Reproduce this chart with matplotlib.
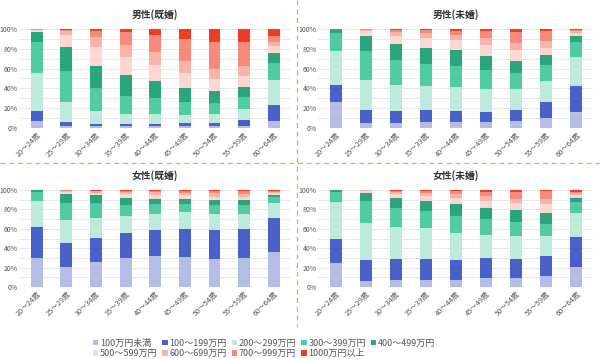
import numpy as np
import matplotlib
matplotlib.use("Agg")
import matplotlib.pyplot as plt
from matplotlib.patches import Patch
from matplotlib.lines import Line2D

plt.rcParams['font.family'] = ['Noto Sans CJK JP', 'DejaVu Sans']

ages = ["20～24歳", "25～29歳", "30～34歳", "35～39歳", "40～44歳",
        "45～49歳", "50～54歳", "55～59歳", "60～64歳"]
bands = ["100万円未満", "100～199万円", "200～299万円", "300～399万円", "400～499万円",
         "500～599万円", "600～699万円", "700～999万円", "1000万円以上"]
colors = ["#b3bde6", "#4a61c9", "#bcebdb", "#50cba2", "#2ba57c",
          "#fdd8d3", "#f9b4aa", "#f78b7b", "#ee3d22"]

# 各行: 年齢階級, 各列: 年収階級 (%)
male_married = [
    [7, 10, 39, 31, 10, 1.5, 0.8, 0.5, 0.2],
    [2, 4, 20.6, 31, 24.5, 12, 3.6, 1.7, 0.6],
    [2, 2, 13, 23, 23, 19, 9.5, 6, 2.5],
    [2, 1.7, 10.3, 18.5, 21, 18.5, 11.5, 13, 3.5],
    [2, 2.4, 9.6, 16.6, 16.4, 17, 12.8, 16.8, 6.4],
    [2, 3, 8, 13.6, 13.4, 16, 12, 22, 10],
    [2, 3, 9, 11.6, 11.4, 12.5, 10.5, 26.5, 13.5],
    [2.5, 5.2, 11.3, 12, 10.8, 11.2, 9.6, 24.4, 13],
    [7, 16, 25, 18, 10, 6.5, 4.5, 6, 7],
]
male_single = [
    [26.6, 17.2, 33.6, 18.2, 4.1, 0.1, 0.1, 0.1, 0.0],
    [4.7, 13.1, 30.7, 29.3, 15.2, 5, 1.3, 0.4, 0.3],
    [4.7, 12.1, 26.2, 25.4, 16.1, 8.8, 3.3, 2.4, 1],
    [5.7, 12.1, 24.2, 23, 16, 9.5, 5.1, 3.7, 0.7],
    [5.7, 11.5, 23.8, 21.6, 16.2, 10.4, 5.1, 4, 1.7],
    [6.4, 10.1, 22.5, 20, 13.7, 11.1, 6.8, 7.7, 1.7],
    [7, 11.5, 21.2, 16.3, 11.7, 11.1, 6.7, 11.5, 3],
    [9.8, 16.5, 21.2, 16.1, 10.1, 7.3, 7, 10, 2],
    [16.5, 25.5, 29.4, 15.1, 6.5, 3.3, 1.7, 1.3, 0.7],
]
female_married = [
    [29.6, 32.6, 26.1, 10, 1.5, 0.1, 0.05, 0.05, 0.0],
    [21, 24, 23.7, 18.3, 9.2, 2.1, 1, 0.4, 0.3],
    [25.4, 24.8, 20.6, 15.5, 8.2, 2.4, 1.7, 0.7, 0.7],
    [29.6, 25.7, 17.9, 11.7, 7.1, 3.5, 2.8, 1, 0.7],
    [32, 27, 16.6, 9.6, 5.8, 3.5, 3.1, 1.4, 1],
    [30.6, 28.9, 17.5, 9, 4.4, 4.1, 2.8, 2, 0.7],
    [28.5, 30.3, 16.8, 9.3, 4.8, 3.4, 3.5, 2.7, 0.7],
    [29.6, 30.2, 15.8, 8.9, 4.8, 3.1, 3.5, 3.4, 0.7],
    [36.4, 34.4, 16.2, 6.1, 2.1, 1.7, 1.4, 1, 0.7],
]
female_single = [
    [25, 24.5, 38.5, 10.3, 1.4, 0.1, 0.1, 0.05, 0.05],
    [6.2, 22, 38.1, 22.4, 8.2, 2.1, 0.7, 0.2, 0.1],
    [6.9, 22, 33.3, 19.6, 10.3, 4.1, 2.1, 1, 0.7],
    [7.6, 21.3, 31.9, 17.6, 9.9, 5.5, 3.1, 2.1, 1],
    [6.9, 20.9, 27.9, 17.5, 12, 6.2, 4.1, 3.1, 1.4],
    [8.9, 20.7, 24.4, 16.1, 11, 7.2, 5.5, 4.5, 1.7],
    [9.3, 19.2, 24.1, 14.8, 11.6, 7.3, 4.7, 7.3, 1.7],
    [11.3, 20.3, 21.3, 12.4, 11.3, 8.6, 5.2, 8.2, 1.4],
    [21, 30.9, 24, 11.7, 4.2, 3.4, 2.1, 1, 1.7],
]

panels = [
    ("男性(既婚)", male_married, (19, 290, 29, 128)),
    ("男性(未婚)", male_single, (318, 593, 29, 128)),
    ("女性(既婚)", female_married, (19, 290, 190, 287)),
    ("女性(未婚)", female_single, (318, 593, 190, 287)),
]

W, H = 600, 359
fig = plt.figure(figsize=(W / 100, H / 100), dpi=100)

def px_axes(x0, x1, y0, y1):
    return fig.add_axes([x0 / W, 1 - y1 / H, (x1 - x0) / W, (y1 - y0) / H])

for title, data, (x0, x1, y0, y1) in panels:
    ax = px_axes(x0, x1, y0, y1)
    vals = np.array(data, dtype=float)
    x = np.arange(len(ages))
    bottom = np.zeros(len(ages))
    for j in range(len(bands)):
        ax.bar(x, vals[:, j], bottom=bottom, width=0.4, color=colors[j], zorder=3)
        bottom += vals[:, j]
    ax.set_ylim(0, 100)
    ax.set_xlim(-0.6, 8.55)
    ax.set_yticks(np.arange(0, 101, 20))
    ax.set_yticks(np.arange(0, 101, 10), minor=True)
    ax.set_yticklabels([f"{v}%" for v in range(0, 101, 20)])
    ax.grid(axis="y", which="both", color="#e4e4e4", linewidth=0.6, zorder=0)
    ax.set_xticks(x)
    ax.set_xticklabels(ages, rotation=45, ha="right", rotation_mode="anchor")
    ax.tick_params(axis="x", length=0, labelsize=5.3, colors="#555555", pad=2)
    ax.tick_params(axis="y", which="both", length=0, labelsize=5, colors="#555555", pad=1)
    for s in ax.spines.values():
        s.set_visible(False)
    ax.set_title(title, fontsize=7, fontweight="bold", color="#333333", pad=8)

# 区切りの破線
sep = fig.add_axes([0, 0, 1, 1], zorder=-1)
sep.set_xlim(0, W)
sep.set_ylim(H, 0)
sep.axis("off")
sep.add_line(Line2D([0, W], [163, 163], color="#9ccc5a", linewidth=0.9, linestyle=(0, (4, 3))))
sep.add_line(Line2D([297, 297], [0, 327], color="#9ccc5a", linewidth=0.9, linestyle=(0, (4, 3))))

handles = [Patch(facecolor=c, edgecolor="none") for c in colors]
order = [0, 5, 1, 6, 2, 7, 3, 8, 4]
leg = fig.legend([handles[i] for i in order], [bands[i] for i in order],
                 ncol=5, loc="upper left", bbox_to_anchor=(88 / W, 1 - 334 / H),
                 frameon=False, fontsize=6.5, handlelength=0.6, handleheight=0.6,
                 handletextpad=0.2, columnspacing=0.55, labelspacing=0.15,
                 borderpad=0)
for t in leg.get_texts():
    t.set_color("#555555")

fig.savefig("out.png", dpi=100)
